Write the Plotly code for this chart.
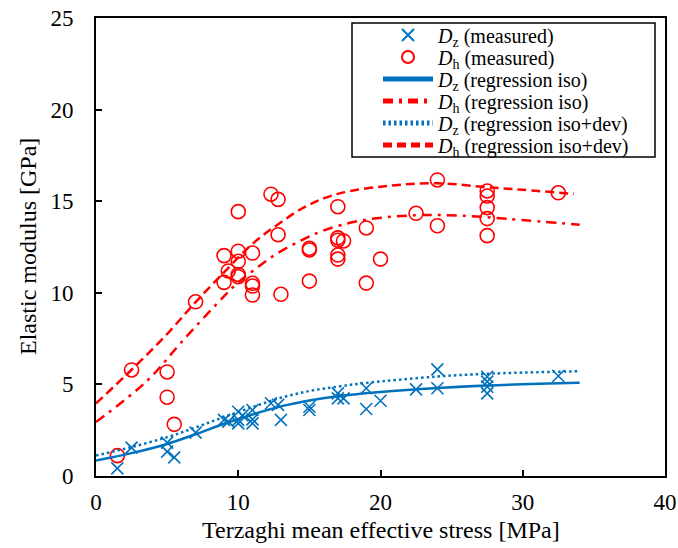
import plotly.graph_objects as go

# ---- measured data ----
dz_x = [1.5, 2.5, 5.0, 5.0, 5.5, 7.0, 9.0, 9.3, 10.0, 10.0, 10.0, 10.3, 11.0, 11.0, 11.0,
        12.3, 12.8, 13.0, 15.0, 15.0, 17.0, 17.0, 17.4, 19.0, 19.0, 20.0, 22.5, 24.0, 24.0,
        27.5, 27.5, 27.5, 27.5, 32.5]
dz_y = [0.42, 1.55, 1.82, 1.33, 1.02, 2.37, 3.06, 2.97, 3.51, 3.06, 2.87, 3.3, 3.6, 3.09, 2.87,
        3.97, 3.88, 3.06, 3.78, 3.6, 4.51, 4.24, 4.24, 4.79, 3.66, 4.11, 4.73, 5.82, 4.79,
        5.42, 5.15, 4.87, 4.51, 5.46]

dh_x = [1.5, 2.5, 5.0, 5.0, 5.5, 7.0, 9.0, 9.0, 9.3, 10.0, 10.0, 10.0, 10.0, 10.0, 11.0, 11.0,
        11.0, 11.0, 12.3, 12.8, 12.8, 13.0, 15.0, 15.0, 15.0, 17.0, 17.0, 17.0, 17.0, 17.0,
        17.4, 19.0, 19.0, 20.0, 22.5, 24.0, 24.0, 27.5, 27.5, 27.5, 27.5, 27.5, 32.5]
dh_y = [1.11, 5.79, 5.68, 4.30, 2.82, 9.51, 12.03, 10.57, 11.19, 14.43, 12.27, 11.72, 11.0, 10.88,
        12.17, 10.52, 10.37, 9.88, 15.38, 15.10, 13.17, 9.92, 12.43, 12.34, 10.64, 14.70, 13.0,
        12.87, 12.06, 11.84, 12.83, 13.54, 10.53, 11.84, 14.34, 16.16, 13.66, 15.56, 15.28,
        14.65, 14.05, 13.12, 15.46]

# ---- regression curves ----
dz_iso_x = [0, 2.5, 5.0, 7.0, 9.0, 11.0, 13.0, 15.0, 17.0, 20.0, 24.0, 27.5, 34.0]
dz_iso_y = [0.85, 1.25, 1.75, 2.28, 2.85, 3.36, 3.80, 4.12, 4.35, 4.58, 4.80, 4.94, 5.09]

dh_iso_x = [0, 3.6, 6.0, 8.5, 9.9, 11.3, 12.7, 14.4, 16.0, 18.6, 22.1, 25.4, 28.9, 34.0]
dh_iso_y = [2.95, 5.20, 7.30, 9.40, 10.50, 11.35, 12.13, 12.85, 13.40, 13.94, 14.22, 14.22, 14.04, 13.71]

dz_dev_x = [0, 2.5, 5.0, 7.0, 9.0, 11.0, 13.0, 15.0, 17.0, 19.0, 24.0, 27.5, 34.0]
dz_dev_y = [1.12, 1.58, 2.12, 2.65, 3.22, 3.76, 4.27, 4.64, 4.88, 5.08, 5.43, 5.58, 5.72]

dh_dev_x = [0, 2.5, 4.9, 7.0, 9.0, 11.0, 13.0, 14.85, 17.0, 20.7, 24.0, 27.5, 30.0, 33.6]
dh_dev_y = [3.96, 5.80, 7.67, 9.49, 11.12, 12.67, 13.85, 14.76, 15.40, 15.85, 15.98, 15.76, 15.62, 15.40]

x_ticks = [0, 10, 20, 30, 40]
y_ticks = [0, 5, 10, 15, 20, 25]

x_title = "Terzaghi mean effective stress [MPa]"
y_title = "Elastic modulus [GPa]"

series_names = [
    "<i>D</i><sub>z</sub> (measured)",
    "<i>D</i><sub>h</sub> (measured)",
    "<i>D</i><sub>z</sub> (regression iso)",
    "<i>D</i><sub>h</sub> (regression iso)",
    "<i>D</i><sub>z</sub> (regression iso+dev)",
    "<i>D</i><sub>h</sub> (regression iso+dev)",
]

BLUE = "#0072BD"
RED = "#FF0000"
FONT = "'Liberation Serif', 'Times New Roman', Times, serif"

# plot area in pixels (for converting legend layout positions to paper coords)
W, H = 678, 548
ML, MR, MT, MB = 96, 13, 18, 72
PW, PH = W - ML - MR, H - MT - MB


def px_x(px):
    return (px - ML) / PW


def px_y(py):
    return (H - MB - py) / PH


legend_ids = ["legend", "legend2", "legend3", "legend4", "legend5", "legend6"]

fig = go.Figure()
fig.add_trace(go.Scatter(x=dz_x, y=dz_y, mode="markers", name=series_names[0], legend=legend_ids[0],
                         marker=dict(symbol="x-thin", size=12, color=BLUE,
                                     line=dict(color=BLUE, width=1.6))))
fig.add_trace(go.Scatter(x=dh_x, y=dh_y, mode="markers", name=series_names[1], legend=legend_ids[1],
                         marker=dict(symbol="circle-open", size=14, color=RED,
                                     line=dict(color=RED, width=1.6))))
fig.add_trace(go.Scatter(x=dz_iso_x, y=dz_iso_y, mode="lines", line_shape="spline",
                         name=series_names[2], legend=legend_ids[2],
                         line=dict(color=BLUE, width=2.5, dash="solid")))
fig.add_trace(go.Scatter(x=dh_iso_x, y=dh_iso_y, mode="lines", line_shape="spline",
                         name=series_names[3], legend=legend_ids[3],
                         line=dict(color=RED, width=2.5, dash="10px,6px,3px,6px")))
fig.add_trace(go.Scatter(x=dz_dev_x, y=dz_dev_y, mode="lines", line_shape="spline",
                         name=series_names[4], legend=legend_ids[4],
                         line=dict(color=BLUE, width=2.5, dash="2.5px,3px")))
fig.add_trace(go.Scatter(x=dh_dev_x, y=dh_dev_y, mode="lines", line_shape="spline",
                         name=series_names[5], legend=legend_ids[5],
                         line=dict(color=RED, width=2.5, dash="9px,5px")))

axis_common = dict(showgrid=False, zeroline=False, showline=True, linecolor="black", linewidth=2,
                   mirror=True, ticks="inside", ticklen=6, tickwidth=1.5, tickcolor="black",
                   automargin=False, ticklabeloverflow="allow",
                   tickfont=dict(family=FONT, size=23, color="black"))

legend_rows = [35, 57, 79, 101, 123, 145]  # row centres in px
legends = {}
for lid, row in zip(legend_ids, legend_rows):
    legends[lid] = dict(x=px_x(378), y=px_y(row), xanchor="left", yanchor="middle",
                        bgcolor="rgba(0,0,0,0)", borderwidth=0,
                        font=dict(family=FONT, size=20, color="black"),
                        itemwidth=50, itemsizing="constant")

fig.update_layout(
    width=W, height=H,
    margin=dict(l=ML, r=MR, t=MT, b=MB),
    paper_bgcolor="white", plot_bgcolor="white",
    font=dict(family=FONT, size=20, color="black"),
    xaxis=dict(range=[0, 40], tickvals=x_ticks, ticklabelstandoff=4, **axis_common),
    yaxis=dict(range=[0, 25], tickvals=y_ticks, ticklabelstandoff=16, **axis_common),
    showlegend=True,
    shapes=[dict(type="rect", xref="paper", yref="paper",
                 x0=px_x(352), x1=px_x(655), y0=px_y(157), y1=px_y(23),
                 line=dict(color="black", width=1.5), fillcolor="white", layer="above")],
    annotations=[
        dict(text=x_title, xref="paper", yref="paper", x=0.5, y=px_y(530),
             xanchor="center", yanchor="middle", showarrow=False,
             font=dict(family=FONT, size=24, color="black")),
        dict(text=y_title, xref="paper", yref="paper", x=px_x(28), y=0.5,
             xanchor="center", yanchor="middle", textangle=-90, showarrow=False,
             font=dict(family=FONT, size=24, color="black")),
    ],
    **legends,
)

fig.write_html("out.html", post_script="document.body.style.margin='0px';",
               config={"displayModeBar": False})
